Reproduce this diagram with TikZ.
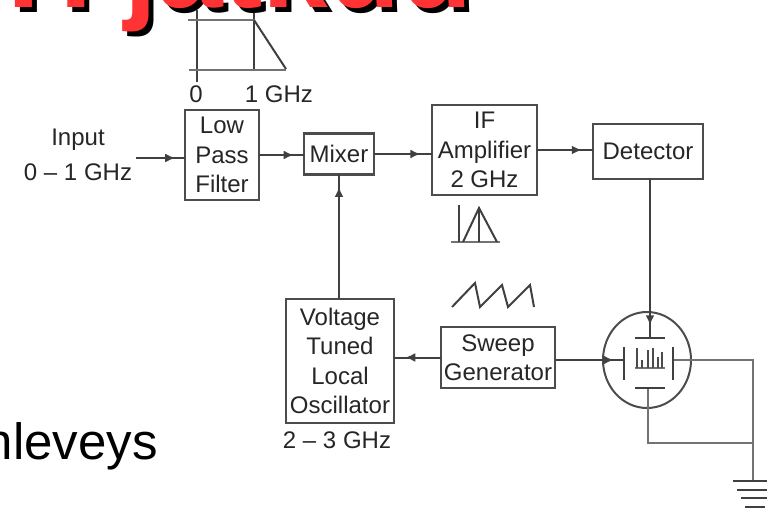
\documentclass[tikz,border=0pt]{standalone}
\usepackage{fontspec}
\setmainfont{Liberation Sans}
\usetikzlibrary{arrows.meta,decorations.markings,shapes.geometric}
\definecolor{titlered}{HTML}{FF3333}
\begin{document}
\begin{tikzpicture}[x=1pt,y=-1pt,
  box/.style={draw=black!70,line width=2.2pt,inner sep=0pt,outer sep=0pt,align=center,text=black!85,
    font=\fontsize{24}{29.5}\selectfont},
  lab/.style={inner sep=0pt,text=black!85,font=\fontsize{24}{29.5}\selectfont,align=center},
  wire/.style={draw=black!75,line width=2pt},
  thin wire/.style={draw=black!55,line width=2pt},
  flow/.style={wire,postaction={decorate,decoration={markings,
    mark=at position #1 with {\arrow{Latex[length=10pt,width=9pt]}}}}},
  flow/.default=0.8,
  heading/.style={inner sep=0pt,anchor=base west,font=\fontsize{118}{118}\bfseries\selectfont}]
  \useasboundingbox (0,0) rectangle (767,510);
  \clip (0,0) rectangle (767,510);
  \node[heading,text=black] (titleback) at (-80,13) {OH jatkuu};
  \node[heading,text=titlered] (title) at (-85,8) {OH jatkuu};
  \node[inner sep=0pt,anchor=base east,font=\fontsize{51}{51}\selectfont] (bandwidth) at (158,459) {nleveys};
  % blocks
  \node[box,minimum width=74pt,minimum height=90pt] (lpf) at (222,155) {Low\\Pass\\Filter};
  \node[box,minimum width=70pt,minimum height=41pt] (mixer) at (339,154) {Mixer};
  \node[box,minimum width=105pt,minimum height=90pt] (ifamp) at (484.5,150) {IF\\Amplifier\\2 GHz};
  \node[box,minimum width=110pt,minimum height=55pt] (detector) at (648,151.5) {Detector};
  \node[box,minimum width=108pt,minimum height=124pt] (vtlo) at (340,361) {Voltage\\Tuned\\Local\\Oscillator};
  \node[box,minimum width=114pt,minimum height=61pt] (sweep) at (498,357.5) {Sweep\\Generator};
  \node[draw=black!70,line width=2pt,ellipse,inner sep=0pt,outer sep=0pt,minimum width=88pt,minimum height=96pt] (scope) at (647,360) {};
  % labels
  \node[lab] (input) at (78,140) {Input};
  \node[lab] (inband) at (78,172) {0 -- 1 GHz};
  \node[lab] (zero) at (196,94) {0};
  \node[lab] (onegig) at (279,94) {1 GHz};
  \node[lab] (lorange) at (337,440) {2 -- 3 GHz};
  \coordinate (infree) at (136,158);
  \coordinate (platetop) at (650,338);
  \coordinate (plateleft) at (624,360);
  \coordinate (plateright) at (673,360);
  \coordinate (platelow) at (648,388);
  \coordinate (bend) at (753,443);
  \coordinate (gnd) at (753,482);
  % connectors
  \draw[flow=0.8] (infree) -- (infree -| lpf.west);
  \draw[flow=0.77] (lpf.east) -- (lpf.east -| mixer.west);
  \draw[flow=0.8] (mixer.east) -- (mixer.east -| ifamp.west);
  \draw[flow=0.8] (ifamp.east) -- (ifamp.east -| detector.west);
  \draw[flow=0.9] (vtlo.north -| mixer.south) -- (mixer.south);
  \draw[flow=0.76] (sweep.west) -- (sweep.west -| vtlo.east);
  \draw[flow=0.92] (platetop |- detector.south) -- (platetop);
  \draw[flow=0.85] (sweep.east |- plateleft) -- (plateleft);
  \draw[thin wire] (plateright) -- (plateright -| gnd) -- (gnd);
  \draw[thin wire] (platelow) -- (platelow |- bend) -- (bend);
  % plates and screen
  \draw[wire] (635,338) -- (665,338) (635,388) -- (665,388);
  \draw[wire] (plateleft |- 0,347) -- (plateleft |- 0,380) (plateright |- 0,347) -- (plateright |- 0,380);
  \draw[thin wire] (635,368) -- (665,368);
  \draw[draw=black!70,line width=1.4pt] (637,368) -- (637,348) (642,368) -- (642,360) (648,368) -- (648,350)
    (653,368) -- (653,348) (658,368) -- (658,357) (662,368) -- (662,352);
  % ground
  \draw[wire] (733,481) -- (767,481) (737,490) -- (767,490) (741,498) -- (767,498) (745,507) -- (765,507);
  % low pass sketch
  \draw[wire] (197,10) -- (197,82);
  \draw[wire] (254,13) -- (254,70);
  \draw[thin wire] (188,20) -- (255,20) (189,70) -- (286,70);
  \draw[wire] (254,20) -- (286,69);
  % if passband sketch
  \draw[thin wire] (451,242) -- (500,242);
  \draw[wire] (459,205) -- (459,242) (479,207) -- (479,242);
  \draw[wire] (463,242) -- (479,208) -- (497,242);
  % sweep ramp
  \draw[wire] (452,307) -- (475,283) -- (480,307) -- (502,285) -- (508,307) -- (530,285) -- (534,307);
\end{tikzpicture}
\end{document}
